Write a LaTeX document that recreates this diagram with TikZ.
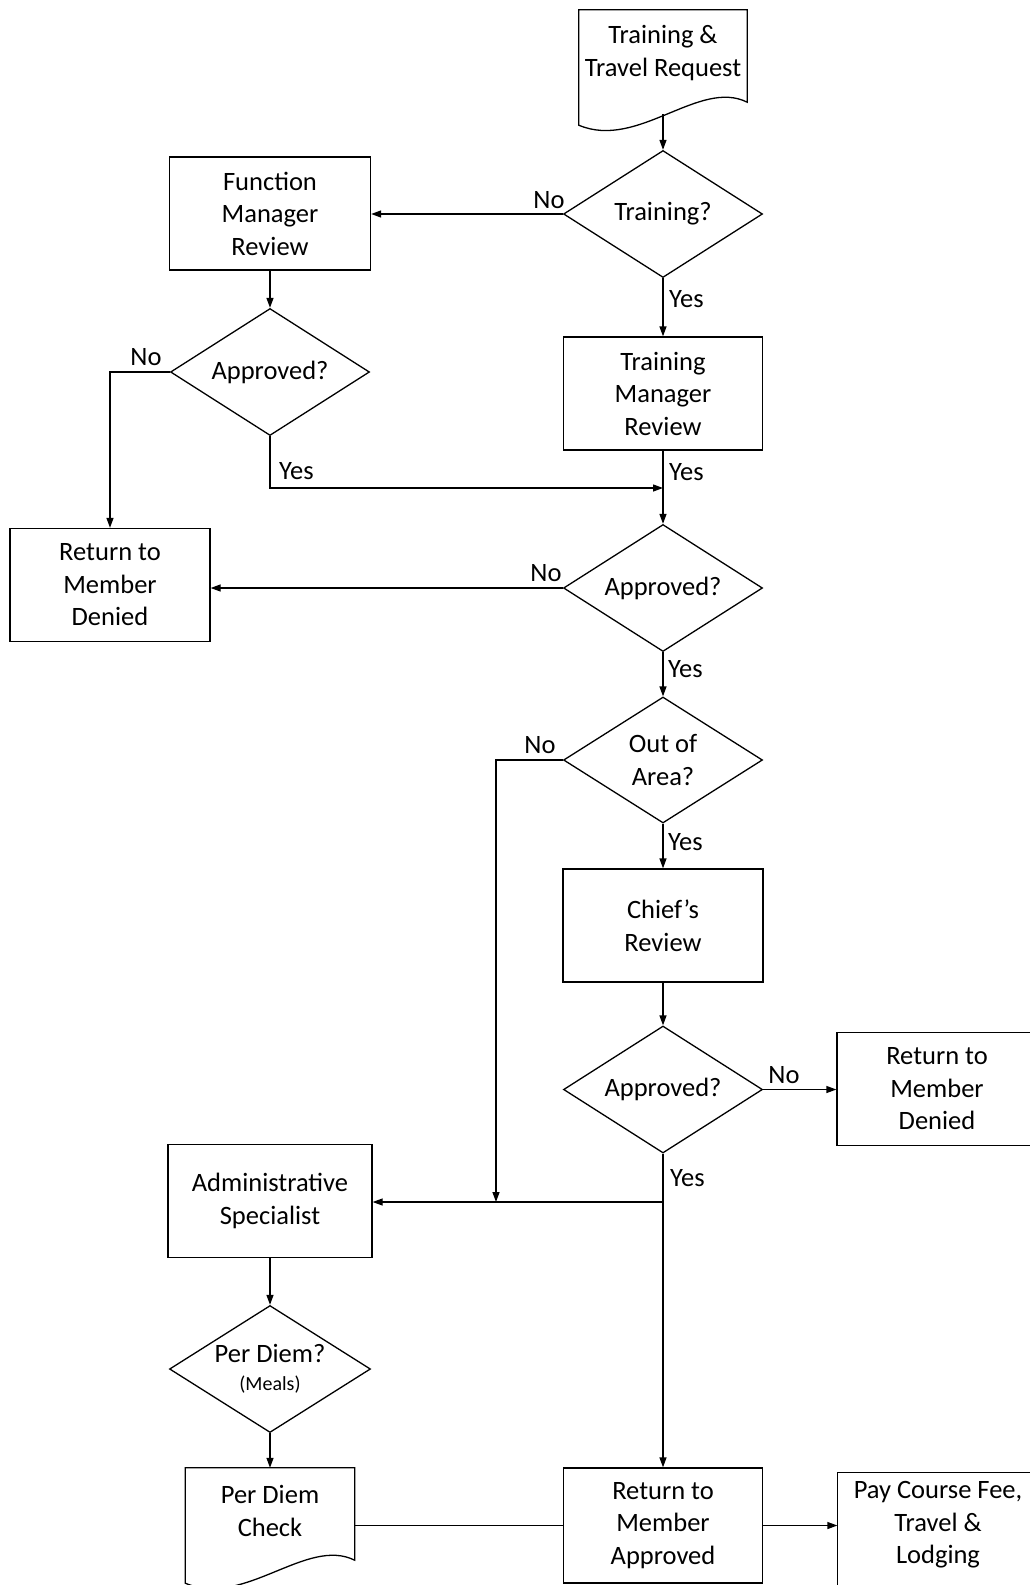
\documentclass[tikz,border=0pt]{standalone}
\usepackage{fontspec}
\setmainfont{Carlito}
\usetikzlibrary{arrows.meta,positioning,calc,shapes.geometric}

\tikzset{
  box/.style={draw, line width=1.3pt, minimum width=200pt, minimum height=113pt, align=center, inner sep=0pt},
  decision/.style={draw, diamond, aspect=1.57, line width=1.3pt, minimum width=199pt, minimum height=127pt, align=center, inner sep=0pt},
  doctext/.style={minimum width=168pt, minimum height=86pt, align=center, inner sep=0pt},
  lbl/.style={inner sep=0pt},
  flow/.style={line width=1.3pt, -{Triangle[length=10pt,width=7pt]}},
  link/.style={line width=1.3pt},
}

\begin{document}
\begin{tikzpicture}[x=1pt, y=-1pt, font=\fontsize{26.5}{32.5}\selectfont]
    \useasboundingbox (0,0) rectangle (1030,1585);

    % Request document
    \node[doctext] (req) at (663,53) {Training \&\\Travel Request};
    \draw[link] (req.north west) -- (req.north east) -- ($(req.south east)+(0,6)$)
      .. controls ($(req.south east)+(-48,-18)$) and ($(req.south west)+(59,54)$) .. ($(req.south west)+(0,29)$) -- cycle;
    \coordinate (reqout) at ($(req.south)+(0,18)$);

    % Main column
    \node[decision] (training) at (663,214) {Training?};
    \node[box, minimum width=199pt] (tmr) at (663,393.5) {Training\\Manager\\Review};
    \node[decision] (appr2) at (663,588) {Approved?};
    \node[decision, minimum height=126pt] (area) at (663,760) {Out of\\Area?};
    \node[box] (chief) at (663,925.5) {Chief’s\\Review};
    \node[decision] (appr3) at (663,1089.5) {Approved?};
    \node[box, minimum width=199pt, minimum height=115pt] (rma) at (663,1525.5) {Return to\\Member\\Approved};

    % Left column
    \node[box, minimum width=201pt] (fmr) at (270,213.5) {Function\\Manager\\Review};
    \node[decision] (appr1) at (270,372) {Approved?};
    \node[box] (rmd1) at (110,585) {Return to\\Member\\Denied};
    \node[box, minimum width=204pt] (admin) at (270,1201) {Administrative\\Specialist};
    \node[decision, minimum width=201pt] (perdiem) at (270,1369) {Per Diem?\\[-4.5pt]{\fontsize{20}{24}\selectfont (Meals)}};

    % Per diem document
    \node[doctext, minimum width=169pt] (pdc) at (270,1511) {Per Diem\\Check};
    \draw[link] (pdc.north west) -- (pdc.north east) -- ($(pdc.south east)+(0,6)$)
      .. controls ($(pdc.south east)+(-48,-18)$) and ($(pdc.south west)+(59,54)$) .. ($(pdc.south west)+(0,29)$) -- cycle;

    % Right side, running past the page edge
    \node[box, minimum width=200pt] (rmd2) at (937,1089) {Return to\\Member\\Denied};
    \node[box, draw=none, minimum width=200pt, minimum height=104pt] (pay) at (938,1525) {Pay Course Fee,\\Travel \&\\Lodging};
    \draw[link] ($(pay.south west)+(0,20)$) -- (pay.north west) -- (pay.north east) -- ($(pay.south east)+(0,20)$);

    % Junctions
    \coordinate (join1) at (663,488);
    \coordinate (join2) at (496,1202);
    \coordinate (join3) at (appr3.south |- join2);

    % Connectors
    \draw[flow] (reqout) -- (training.north);
    \draw[flow] (training.west) -- (training.west -| fmr.east);
    \draw[flow] (training) -- (tmr);
    \draw[flow] (fmr) -- (appr1);
    \draw[flow] (appr1.west) -| (rmd1.north);
    \draw[flow] (appr1.south) |- (join1);
    \draw[flow] (tmr) -- (appr2);
    \draw[flow] (appr2.west) -- (appr2.west -| rmd1.east);
    \draw[flow] (appr2) -- (area);
    \draw[flow] (area.west) -| (join2);
    \draw[flow] (area) -- (chief);
    \draw[flow] (chief) -- (appr3);
    \draw[flow] (appr3.east) -- (appr3.east -| rmd2.west);
    \draw[flow] (appr3) -- (rma);
    \draw[flow] (join3) -- (join3 -| admin.east);
    \draw[flow] (admin) -- (perdiem);
    \draw[flow] (perdiem) -- (pdc);
    \draw[link] (rma.west -| pdc.east) -- (rma.west);
    \draw[flow] (rma.east) -- (rma.east -| pay.west);

    % Branch labels
    \node[lbl] (no1) at (549,200) {No};
    \node[lbl, anchor=west] (yes1) at (669,299) {Yes};
    \node[lbl] (no2) at (146,357) {No};
    \node[lbl, anchor=west] (yes2) at (279,471) {Yes};
    \node[lbl, anchor=west] (yes3) at (669,472) {Yes};
    \node[lbl] (no3) at (546,573) {No};
    \node[lbl, anchor=west] (yes4) at (668,669) {Yes};
    \node[lbl] (no4) at (540,745) {No};
    \node[lbl, anchor=west] (yes5) at (668,842) {Yes};
    \node[lbl] (no5) at (784,1075) {No};
    \node[lbl, anchor=west] (yes6) at (670,1178) {Yes};
\end{tikzpicture}
\end{document}
